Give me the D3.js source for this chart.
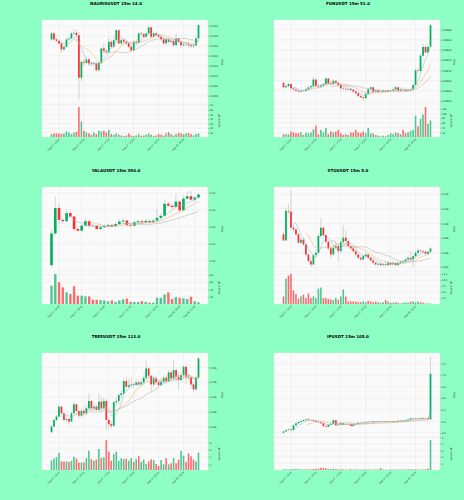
<!DOCTYPE html>
<html>
<head>
<meta charset="utf-8">
<script src="https://cdn.jsdelivr.net/npm/d3@7"></script>
<style>
  body { margin: 0; background: #8effc4; }
  svg { display: block; }
</style>
</head>
<body>
<svg width="464" height="500"></svg>
<script>
// ---- data: 15m candles ----
var naorisOpen = [0.04282,0.04312,0.04282,0.04275,0.04262,0.04232,0.04245,0.04282,0.04287,0.04312,
  0.04315,0.04303,0.04090,0.04170,0.04165,0.04182,0.04162,0.04158,0.04162,0.04128,
  0.04165,0.04237,0.04225,0.04220,0.04270,0.04245,0.04278,0.04328,0.04262,0.04278,
  0.04270,0.04262,0.04245,0.04228,0.04270,0.04265,0.04312,0.04308,0.04295,0.04312,
  0.04342,0.04295,0.04312,0.04303,0.04295,0.04282,0.04262,0.04282,0.04270,0.04275,
  0.04253,0.04287,0.04270,0.04253,0.04257,0.04258,0.04253,0.04248,0.04252,0.04287];
var naorisHigh = [0.04320,0.04318,0.04290,0.04280,0.04268,0.04252,0.04290,0.04295,0.04322,0.04335,
  0.04330,0.04320,0.04178,0.04185,0.04195,0.04190,0.04172,0.04170,0.04168,0.04172,
  0.04245,0.04262,0.04232,0.04290,0.04282,0.04300,0.04335,0.04332,0.04300,0.04290,
  0.04278,0.04270,0.04250,0.04278,0.04280,0.04318,0.04320,0.04315,0.04320,0.04350,
  0.04345,0.04322,0.04318,0.04310,0.04300,0.04288,0.04290,0.04288,0.04282,0.04280,
  0.04310,0.04292,0.04275,0.04265,0.04268,0.04265,0.04260,0.04258,0.04300,0.04360];
var naorisLow = [0.04275,0.04278,0.04268,0.04255,0.04215,0.04225,0.04240,0.04276,0.04283,0.04305,
  0.04298,0.03978,0.04070,0.04150,0.04158,0.04150,0.04148,0.04150,0.04120,0.04122,
  0.04160,0.04218,0.04210,0.04215,0.04238,0.04240,0.04272,0.04255,0.04255,0.04262,
  0.04255,0.04238,0.04220,0.04222,0.04258,0.04260,0.04300,0.04288,0.04290,0.04305,
  0.04288,0.04290,0.04298,0.04290,0.04275,0.04252,0.04258,0.04262,0.04265,0.04245,
  0.04250,0.04262,0.04240,0.04245,0.04250,0.04240,0.04238,0.04240,0.04245,0.04280];
var naorisClose = [0.04312,0.04282,0.04275,0.04262,0.04232,0.04245,0.04282,0.04287,0.04312,0.04315,
  0.04303,0.04090,0.04170,0.04165,0.04182,0.04162,0.04158,0.04162,0.04128,0.04165,
  0.04237,0.04225,0.04220,0.04270,0.04245,0.04278,0.04328,0.04262,0.04278,0.04270,
  0.04262,0.04245,0.04228,0.04270,0.04265,0.04312,0.04308,0.04295,0.04312,0.04342,
  0.04295,0.04312,0.04303,0.04295,0.04282,0.04262,0.04282,0.04270,0.04275,0.04253,
  0.04287,0.04270,0.04253,0.04257,0.04258,0.04253,0.04248,0.04252,0.04287,0.04353];
var naorisVol = [7.2,8.6,8.6,8.6,7.2,8.6,13,10.8,7.2,10.8, 12.2,66,34.5,14.4,10.8,8.6,5.8,10.8,7.2,14.4,
  13,14.4,10.8,15.8,7.2,5.8,8.6,5.8,4.3,2.9, 4.3,8.6,4.3,2.9,4.3,7.2,3.6,4.3,5.8,8.6,
  5.8,3.6,4.3,7.2,5.8,4.3,8.6,11.5,7.2,4.3, 7.2,10,8.6,7.2,8.6,9.4,7.2,4.3,7.2,8.6];

var funOpen = [0.009339,0.009317,0.009323,0.009333,0.009312,0.009307,0.009301,0.009296,0.009301,0.009299,
  0.009307,0.009317,0.009323,0.009355,0.009323,0.009320,0.009326,0.009333,0.009360,0.009336,
  0.009333,0.009349,0.009339,0.009328,0.009312,0.009310,0.009307,0.009309,0.009304,0.009296,
  0.009288,0.009275,0.009269,0.009264,0.009285,0.009307,0.009317,0.009296,0.009301,0.009294,
  0.009296,0.009301,0.009296,0.009301,0.009302,0.009307,0.009317,0.009301,0.009307,0.009306,
  0.009301,0.009304,0.009307,0.009328,0.009400,0.009397,0.009472,0.009515,0.009488,0.009515];
var funHigh = [0.009345,0.009330,0.009338,0.009336,0.009318,0.009312,0.009306,0.009305,0.009305,0.009312,
  0.009322,0.009330,0.009368,0.009360,0.009330,0.009332,0.009340,0.009368,0.009364,0.009345,
  0.009355,0.009352,0.009342,0.009332,0.009318,0.009316,0.009318,0.009314,0.009308,0.009300,
  0.009292,0.009280,0.009272,0.009290,0.009312,0.009322,0.009320,0.009306,0.009305,0.009300,
  0.009306,0.009304,0.009305,0.009308,0.009312,0.009324,0.009320,0.009318,0.009312,0.009310,
  0.009310,0.009312,0.009335,0.009410,0.009412,0.009480,0.009530,0.009525,0.009530,0.009628];
var funLow = [0.009310,0.009312,0.009318,0.009306,0.009300,0.009295,0.009290,0.009292,0.009294,0.009295,
  0.009303,0.009312,0.009318,0.009318,0.009312,0.009315,0.009320,0.009328,0.009330,0.009326,
  0.009328,0.009333,0.009320,0.009305,0.009302,0.009300,0.009300,0.009297,0.009288,0.009280,
  0.009268,0.009260,0.009254,0.009258,0.009280,0.009302,0.009290,0.009292,0.009290,0.009290,
  0.009292,0.009290,0.009292,0.009296,0.009298,0.009303,0.009296,0.009297,0.009300,0.009294,
  0.009296,0.009294,0.009302,0.009322,0.009385,0.009390,0.009465,0.009480,0.009482,0.009510];
var funClose = [0.009317,0.009323,0.009333,0.009312,0.009307,0.009301,0.009296,0.009301,0.009299,0.009307,
  0.009317,0.009323,0.009355,0.009323,0.009320,0.009326,0.009333,0.009360,0.009336,0.009333,
  0.009349,0.009339,0.009328,0.009312,0.009310,0.009307,0.009309,0.009304,0.009296,0.009288,
  0.009275,0.009269,0.009264,0.009285,0.009307,0.009317,0.009296,0.009301,0.009294,0.009296,
  0.009301,0.009296,0.009301,0.009302,0.009307,0.009317,0.009301,0.009307,0.009306,0.009301,
  0.009304,0.009307,0.009328,0.009400,0.009397,0.009472,0.009515,0.009488,0.009515,0.009621];
var funVol = [13,13,13,24,20,17,17,21,10,20, 17,20,34,49,13,31,20,39,13,24,
  21,24,31,17,10,13,10,20,20,31, 20,17,24,17,39,17,16,10,7,4,
  7,4,10,17,13,20,17,13,31,17, 21,27,31,91,46,77,96,127,57,71];

var yalaOpen = [0.186,0.280,0.355,0.320,0.316,0.340,0.330,0.293,0.288,0.303,
  0.316,0.303,0.302,0.293,0.298,0.302,0.305,0.301,0.308,0.315,
  0.318,0.305,0.303,0.313,0.316,0.313,0.317,0.313,0.318,0.326,
  0.332,0.368,0.362,0.358,0.374,0.348,0.383,0.390,0.380,0.386];
var yalaHigh = [0.293,0.388,0.368,0.326,0.350,0.348,0.333,0.298,0.308,0.326,
  0.318,0.308,0.303,0.303,0.308,0.310,0.308,0.313,0.322,0.326,
  0.320,0.310,0.318,0.320,0.320,0.322,0.320,0.323,0.350,0.340,
  0.378,0.373,0.368,0.398,0.378,0.393,0.403,0.406,0.390,0.398];
var yalaLow = [0.180,0.273,0.308,0.308,0.313,0.326,0.286,0.283,0.286,0.300,
  0.298,0.298,0.288,0.290,0.296,0.300,0.298,0.298,0.305,0.312,
  0.300,0.298,0.300,0.310,0.308,0.310,0.308,0.310,0.314,0.320,
  0.328,0.358,0.350,0.353,0.343,0.346,0.380,0.378,0.378,0.384];
var yalaClose = [0.280,0.355,0.320,0.316,0.340,0.330,0.293,0.288,0.303,0.316,
  0.303,0.302,0.293,0.298,0.302,0.305,0.301,0.308,0.315,0.318,
  0.305,0.303,0.313,0.316,0.313,0.317,0.313,0.318,0.326,0.332,
  0.368,0.362,0.358,0.374,0.348,0.383,0.390,0.380,0.386,0.395];
var yalaVol = [51,82,60,46,33,28,49,24,24,22, 22,13,13,12,11,9,11,7,11,14,
  16,7,7,7,9,7,5,5,18,18, 27,33,15,20,18,17,15,21,9,6];

var stoOpen = [0.09850,0.09767,0.10171,0.10161,0.09941,0.09918,0.09850,0.09735,0.09776,0.09712,
  0.09574,0.09483,0.09437,0.09565,0.09597,0.09827,0.09941,0.09840,0.09749,0.09657,
  0.09574,0.09666,0.09689,0.09620,0.09744,0.09804,0.09758,0.09689,0.09657,0.09620,
  0.09574,0.09528,0.09506,0.09551,0.09574,0.09528,0.09492,0.09460,0.09437,0.09446,
  0.09428,0.09437,0.09428,0.09460,0.09437,0.09460,0.09428,0.09460,0.09473,0.09483,
  0.09506,0.09528,0.09506,0.09551,0.09597,0.09629,0.09620,0.09611,0.09583,0.09611];
var stoHigh = [0.09872,0.10217,0.10262,0.10446,0.09987,0.09941,0.09872,0.09804,0.09795,0.09721,
  0.09583,0.09528,0.09583,0.09629,0.09859,0.10079,0.09964,0.09850,0.09767,0.09689,
  0.09712,0.09758,0.09712,0.09781,0.09973,0.09918,0.09781,0.09712,0.09689,0.09643,
  0.09597,0.09565,0.09574,0.09597,0.09583,0.09551,0.09519,0.09483,0.09473,0.09473,
  0.09460,0.09483,0.09483,0.09473,0.09492,0.09473,0.09483,0.09492,0.09506,0.09528,
  0.09565,0.09620,0.09574,0.09629,0.09657,0.09643,0.09639,0.09629,0.09629,0.09675];
var stoLow = [0.09758,0.09758,0.10125,0.09918,0.09886,0.09827,0.09712,0.09721,0.09689,0.09551,
  0.09460,0.09400,0.09428,0.09538,0.09574,0.09804,0.09813,0.09721,0.09629,0.09519,
  0.09551,0.09643,0.09473,0.09597,0.09712,0.09735,0.09666,0.09629,0.09597,0.09551,
  0.09506,0.09483,0.09492,0.09528,0.09506,0.09473,0.09437,0.09423,0.09419,0.09414,
  0.09414,0.09409,0.09414,0.09419,0.09428,0.09414,0.09414,0.09446,0.09455,0.09469,
  0.09492,0.09492,0.09400,0.09528,0.09574,0.09597,0.09583,0.09565,0.09565,0.09597];
var stoClose = [0.09767,0.10171,0.10161,0.09941,0.09918,0.09850,0.09735,0.09776,0.09712,0.09574,
  0.09483,0.09437,0.09565,0.09597,0.09827,0.09941,0.09840,0.09749,0.09657,0.09574,
  0.09666,0.09689,0.09620,0.09744,0.09804,0.09758,0.09689,0.09657,0.09620,0.09574,
  0.09528,0.09506,0.09551,0.09574,0.09528,0.09492,0.09460,0.09437,0.09446,0.09428,
  0.09437,0.09428,0.09460,0.09437,0.09460,0.09428,0.09460,0.09473,0.09483,0.09506,
  0.09528,0.09506,0.09551,0.09597,0.09629,0.09620,0.09611,0.09583,0.09611,0.09657];
var stoVol = [3.2,10.6,11.9,12.5,5.7,4.2,2.2,3.2,3.9,2.5, 4.4,2.5,3.2,2.5,6.4,6.9,2.5,2.5,2.2,1.9,
  1.7,2.5,1.8,3.2,6.1,3.2,1.1,1.1,1.1,1.1, 0.8,0.8,1.1,0.8,1.4,1.1,0.8,1.1,0.8,0.6,
  0.8,1.7,1.1,0.6,0.6,0.8,0.6,0.3,0.6,0.8, 0.6,1.1,1.1,0.8,1.1,0.8,0.6,0.3,0.3,0.2];

var treeOpen = [0.38308,0.38500,0.38724,0.38837,0.39174,0.38949,0.38724,0.38758,0.38668,0.38949,
  0.39252,0.39028,0.38870,0.39028,0.38949,0.39117,0.39365,0.39117,0.39174,0.39061,
  0.39342,0.39117,0.39365,0.38724,0.38578,0.38522,0.39320,0.39365,0.39567,0.39623,
  0.40039,0.39848,0.39904,0.39927,0.39904,0.39994,0.39927,0.39994,0.40152,0.40466,
  0.40219,0.39927,0.40129,0.39994,0.39904,0.40017,0.40152,0.40039,0.40331,0.40129,
  0.40410,0.40185,0.40073,0.40241,0.40522,0.40185,0.40152,0.39927,0.39758,0.40152];
var treeHigh = [0.38555,0.38780,0.38893,0.39230,0.39200,0.38983,0.38893,0.38803,0.39005,0.39320,
  0.39286,0.39061,0.39117,0.39174,0.39230,0.39623,0.39398,0.39320,0.39230,0.39623,
  0.39511,0.39477,0.39432,0.38780,0.38690,0.39365,0.39477,0.39623,0.39736,0.40129,
  0.40185,0.40129,0.40185,0.40017,0.40129,0.40073,0.40107,0.40241,0.40747,0.40522,
  0.40241,0.40241,0.40219,0.40073,0.40129,0.40241,0.40219,0.40410,0.40376,0.40747,
  0.40466,0.40320,0.40354,0.40579,0.40556,0.40298,0.40219,0.39994,0.40219,0.40860];
var treeLow = [0.38275,0.38466,0.38668,0.38803,0.38893,0.38668,0.38646,0.38555,0.38646,0.38916,
  0.38949,0.38780,0.38803,0.38870,0.38893,0.39061,0.38983,0.38949,0.38983,0.39005,
  0.38983,0.39061,0.38387,0.38443,0.38421,0.38500,0.39174,0.39252,0.39455,0.39567,
  0.39792,0.39792,0.39815,0.39792,0.39848,0.39848,0.39882,0.39927,0.40073,0.40129,
  0.39680,0.39848,0.39904,0.39848,0.39882,0.39949,0.39994,0.39994,0.40073,0.40073,
  0.40039,0.39736,0.40017,0.40129,0.39949,0.40073,0.39792,0.39680,0.39702,0.40129];
var treeClose = [0.38500,0.38724,0.38837,0.39174,0.38949,0.38724,0.38758,0.38668,0.38949,0.39252,
  0.39028,0.38870,0.39028,0.38949,0.39117,0.39365,0.39117,0.39174,0.39061,0.39342,
  0.39117,0.39365,0.38724,0.38578,0.38522,0.39320,0.39365,0.39567,0.39623,0.40039,
  0.39848,0.39904,0.39927,0.39904,0.39994,0.39927,0.39994,0.40152,0.40466,0.40219,
  0.39927,0.40129,0.39994,0.39904,0.40017,0.40152,0.40039,0.40331,0.40129,0.40410,
  0.40185,0.40073,0.40241,0.40522,0.40185,0.40152,0.39927,0.39758,0.40152,0.40803];
var treeVol = [3.1,3.6,4.0,5.2,2.8,2.8,2.8,2.7,3.0,4.1, 3.6,2.5,2.5,2.5,3.7,5.7,3.4,3.0,3.3,6.2,
  3.7,3.9,8.6,5.5,3.0,4.8,5.5,3.0,3.7,3.4, 3.6,3.0,3.7,2.7,3.4,4.3,2.7,3.3,2.1,2.8,
  3.4,3.2,2.1,1.6,3.2,2.0,3.7,2.0,2.3,3.7, 2.3,3.3,5.7,4.4,2.7,5.0,4.2,3.3,2.8,5.2];

var ipOpen = [6.001,6.025,6.048,6.060,6.048,6.130,6.165,6.188,6.206,6.223,
  6.235,6.223,6.218,6.206,6.188,6.182,6.165,6.118,6.106,6.142,
  6.159,6.218,6.130,6.142,6.165,6.142,6.147,6.153,6.118,6.147,
  6.159,6.177,6.182,6.177,6.188,6.194,6.200,6.188,6.194,6.200,
  6.194,6.200,6.188,6.194,6.200,6.188,6.194,6.212,6.218,6.212,
  6.223,6.235,6.253,6.247,6.253,6.247,6.259,6.247,6.253,6.235];
var ipHigh = [6.035,6.058,6.072,6.065,6.140,6.178,6.200,6.215,6.232,6.245,
  6.258,6.232,6.225,6.212,6.195,6.188,6.172,6.125,6.150,6.168,
  6.240,6.225,6.152,6.172,6.170,6.155,6.160,6.160,6.152,6.165,
  6.185,6.190,6.188,6.195,6.200,6.206,6.205,6.200,6.206,6.205,
  6.206,6.205,6.200,6.206,6.205,6.200,6.218,6.228,6.222,6.230,
  6.242,6.262,6.260,6.260,6.258,6.265,6.262,6.260,6.258,7.317];
var ipLow = [5.995,6.018,6.040,6.040,6.042,6.122,6.158,6.180,6.198,6.215,
  6.215,6.210,6.198,6.180,6.175,6.158,6.110,6.098,6.100,6.135,
  6.150,6.125,6.125,6.135,6.135,6.138,6.140,6.110,6.112,6.140,
  6.152,6.170,6.170,6.172,6.182,6.188,6.182,6.182,6.188,6.188,
  6.188,6.182,6.182,6.188,6.182,6.182,6.188,6.205,6.205,6.205,
  6.218,6.228,6.240,6.240,6.240,6.240,6.240,6.240,6.228,6.223];
var ipClose = [6.025,6.048,6.060,6.048,6.130,6.165,6.188,6.206,6.223,6.235,
  6.223,6.218,6.206,6.188,6.182,6.165,6.118,6.106,6.142,6.159,
  6.218,6.130,6.142,6.165,6.142,6.147,6.153,6.118,6.147,6.159,
  6.177,6.182,6.177,6.188,6.194,6.200,6.188,6.194,6.200,6.194,
  6.200,6.188,6.194,6.200,6.188,6.194,6.212,6.218,6.212,6.223,
  6.235,6.253,6.247,6.253,6.247,6.259,6.247,6.253,6.235,7.025];
var ipVol = [0.12,0.15,0.10,0.12,0.20,0.18,0.15,0.12,0.10,0.15, 0.12,0.10,0.18,0.15,0.25,0.35,0.30,0.28,0.20,0.15,
  0.22,0.18,0.12,0.10,0.12,0.10,0.08,0.15,0.10,0.12, 0.10,0.08,0.10,0.08,0.10,0.08,0.10,0.12,0.10,0.30,
  0.10,0.08,0.06,0.08,0.10,0.06,0.12,0.10,0.08,0.10, 0.12,0.15,0.10,0.12,0.10,0.08,0.10,0.12,0.20,4.6];

// tick labels
var longTickIdx = [3, 13, 23, 33, 43, 53];
var longTickLabels = ["Aug 07, 12:00", "Aug 07, 14:30", "Aug 07, 17:00", "Aug 07, 19:30", "Aug 07, 22:00", "Aug 08, 00:30"];
var yalaTickIdx = [2, 8, 14, 21, 28, 34, 38];
var yalaTickLabels = ["Aug 07, 16:45", "Aug 07, 18:15", "Aug 07, 19:45", "Aug 07, 21:30", "Aug 07, 23:15", "Aug 08, 00:45", "Aug 08, 01:45"];

var naorisPriceTicks = [0.0400, 0.0405, 0.0410, 0.0415, 0.0420, 0.0425, 0.0430, 0.0435];
var funPriceTicks = [0.00925, 0.00930, 0.00935, 0.00940, 0.00945, 0.00950, 0.00955, 0.00960];
var yalaPriceTicks = [0.20, 0.25, 0.30, 0.35, 0.40];
var stoPriceTicks = [0.094, 0.096, 0.098, 0.100, 0.102, 0.104];
var treePriceTicks = [0.385, 0.390, 0.395, 0.400, 0.405];
var ipPriceTicks = [6.0, 6.2, 6.4, 6.6, 6.8, 7.0, 7.2];

var naorisVolTicks = [10, 20, 30, 40, 50, 60, 70];
var funVolTicks = [20, 40, 60, 80, 100, 120];
var yalaVolTicks = [20, 40, 60, 80];
var stoVolTicks = [2.5, 5.0, 7.5, 10.0, 12.5];
var treeVolTicks = [2, 4, 6, 8];
var ipVolTicks = [1, 2, 3, 4, 5];

var mavWindows = [5, 10, 20];
var mavColors = ["#8ab8d4", "#f2a65e", "#a9a9a9"];

var panels = [
  {title: "NAORISUSDT 15m 14.0", o: naorisOpen, h: naorisHigh, l: naorisLow, c: naorisClose, v: naorisVol,
   pt: naorisPriceTicks, pf: ".4f", vt: naorisVolTicks, vf: "d", vexp: "6", xi: longTickIdx, xl: longTickLabels, col: 0, row: 0},
  {title: "FUNUSDT 15m 51.0", o: funOpen, h: funHigh, l: funLow, c: funClose, v: funVol,
   pt: funPriceTicks, pf: ".5f", vt: funVolTicks, vf: "d", vexp: "6", xi: longTickIdx, xl: longTickLabels, col: 1, row: 0},
  {title: "YALAUSDT 15m 390.0", o: yalaOpen, h: yalaHigh, l: yalaLow, c: yalaClose, v: yalaVol,
   pt: yalaPriceTicks, pf: ".2f", vt: yalaVolTicks, vf: "d", vexp: "4", xi: yalaTickIdx, xl: yalaTickLabels, col: 0, row: 1},
  {title: "STOUSDT 15m 5.0", o: stoOpen, h: stoHigh, l: stoLow, c: stoClose, v: stoVol,
   pt: stoPriceTicks, pf: ".3f", vt: stoVolTicks, vf: ".1f", vexp: "6", xi: longTickIdx, xl: longTickLabels, col: 1, row: 1},
  {title: "TREEUSDT 15m 113.0", o: treeOpen, h: treeHigh, l: treeLow, c: treeClose, v: treeVol,
   pt: treePriceTicks, pf: ".3f", vt: treeVolTicks, vf: "d", vexp: "5", xi: longTickIdx, xl: longTickLabels, col: 0, row: 2},
  {title: "IPUSDT 15m 105.0", o: ipOpen, h: ipHigh, l: ipLow, c: ipClose, v: ipVol,
   pt: ipPriceTicks, pf: ".1f", vt: ipVolTicks, vf: "d", vexp: "5", xi: longTickIdx, xl: longTickLabels, col: 1, row: 2}
];

// ---- layout ----
var svg = d3.select("svg");
var colLeft = [42, 274], colCenter = [116, 348];
var rowTop = [20, 187, 353];
var plotW = 166, priceH = 84, volH = 33, xPad = 9.5;
var upColor = "#00b060", downColor = "#fe3032";
var vUp = "#4dc790", vDown = "#fd6b6c";
var font = "DejaVu Sans, sans-serif";

function sma(arr, w) {
  return arr.map(function(d, i) {
    if (i < w - 1) return null;
    return d3.mean(arr.slice(i - w + 1, i + 1));
  });
}

function styleAxis(sel) {
  sel.select(".domain").remove();
  sel.selectAll("line").attr("stroke", "#444").attr("stroke-width", 0.3);
  sel.selectAll("text").attr("font-size", 2.3).attr("font-family", font).attr("fill", "#222");
}

panels.forEach(function(p) {
  var left = colLeft[p.col], right = left + plotW;
  var top = rowTop[p.row], split = top + priceH, bottom = split + volH;
  var n = p.c.length;
  var g = svg.append("g");

  var x = d3.scaleLinear().domain([0, n - 1]).range([left + xPad, right - xPad]);
  var step = x(1) - x(0);
  var lo = d3.min(p.l), hi = d3.max(p.h), r = hi - lo;
  var y = d3.scaleLinear().domain([lo - 0.05 * r, hi + 0.05 * r]).range([split, top]);
  var yv = d3.scaleLinear().domain([0.3 * d3.min(p.v), 1.1 * d3.max(p.v)]).range([bottom, split]);

  // title
  g.append("text").attr("x", colCenter[p.col]).attr("y", top - 15.5)
    .attr("text-anchor", "middle").attr("font-family", font)
    .attr("font-weight", "bold").attr("font-size", 4).text(p.title);

  // face
  g.append("rect").attr("x", left).attr("y", top).attr("width", plotW).attr("height", bottom - top)
    .attr("fill", "#fafafa").attr("stroke", "#e4e4e4").attr("stroke-width", 0.4);
  g.append("line").attr("x1", left).attr("x2", right).attr("y1", split).attr("y2", split)
    .attr("stroke", "#e4e4e4").attr("stroke-width", 0.4);

  // grid
  g.selectAll(".vg").data(p.xi).enter().append("line")
    .attr("x1", function(d) { return x(d); }).attr("x2", function(d) { return x(d); })
    .attr("y1", top).attr("y2", bottom).attr("stroke", "#dcdcdc").attr("stroke-width", 0.3);
  g.selectAll(".pg").data(p.pt).enter().append("line")
    .attr("x1", left).attr("x2", right)
    .attr("y1", function(d) { return y(d); }).attr("y2", function(d) { return y(d); })
    .attr("stroke", "#dcdcdc").attr("stroke-width", 0.3);
  g.selectAll(".vgg").data(p.vt).enter().append("line")
    .attr("x1", left).attr("x2", right)
    .attr("y1", function(d) { return yv(d); }).attr("y2", function(d) { return yv(d); })
    .attr("stroke", "#dcdcdc").attr("stroke-width", 0.3);

  var idx = d3.range(n);

  // volume bars
  g.selectAll(".vol").data(idx).enter().append("rect")
    .attr("x", function(i) { return x(i) - step * 0.32; })
    .attr("width", step * 0.64)
    .attr("y", function(i) { return yv(p.v[i]); })
    .attr("height", function(i) { return bottom - yv(p.v[i]); })
    .attr("fill", function(i) { return p.c[i] >= p.o[i] ? vUp : vDown; });

  // wicks
  g.selectAll(".wick").data(idx).enter().append("line")
    .attr("x1", function(i) { return x(i); }).attr("x2", function(i) { return x(i); })
    .attr("y1", function(i) { return y(p.h[i]); }).attr("y2", function(i) { return y(p.l[i]); })
    .attr("stroke", "#909090").attr("stroke-width", 0.35);

  // bodies
  g.selectAll(".body").data(idx).enter().append("rect")
    .attr("x", function(i) { return x(i) - step * 0.35; })
    .attr("width", step * 0.7)
    .attr("y", function(i) { return y(Math.max(p.o[i], p.c[i])); })
    .attr("height", function(i) { return Math.max(0.3, Math.abs(y(p.o[i]) - y(p.c[i]))); })
    .attr("fill", function(i) { return p.c[i] >= p.o[i] ? upColor : downColor; });

  // moving averages
  mavWindows.forEach(function(w, k) {
    var m = sma(p.c, w);
    var line = d3.line().defined(function(d) { return d != null; })
      .x(function(d, i) { return x(i); }).y(function(d) { return y(d); });
    g.append("path").datum(m).attr("d", line).attr("fill", "none")
      .attr("stroke", mavColors[k]).attr("stroke-width", 0.5);
  });

  // axes on the right
  g.append("g").attr("transform", "translate(" + right + ",0)")
    .call(d3.axisRight(y).tickValues(p.pt).tickFormat(d3.format(p.pf)).tickSize(1).tickPadding(1))
    .call(styleAxis);
  g.append("g").attr("transform", "translate(" + right + ",0)")
    .call(d3.axisRight(yv).tickValues(p.vt).tickFormat(d3.format(p.vf)).tickSize(1).tickPadding(1))
    .call(styleAxis);

  g.append("text").attr("transform", "translate(" + (right + 14.5) + "," + ((top + split) / 2) + ") rotate(-90)")
    .attr("text-anchor", "middle").attr("font-family", font).attr("font-size", 2.4).attr("fill", "#222")
    .text("Price");
  var vl = g.append("text").attr("transform", "translate(" + (right + 11.5) + "," + ((split + bottom) / 2) + ") rotate(-90)")
    .attr("text-anchor", "middle").attr("font-family", font).attr("font-size", 2.4).attr("fill", "#222");
  vl.append("tspan").text("Volume  10");
  vl.append("tspan").attr("dy", -0.9).attr("font-size", 1.7).text(p.vexp);

  // x tick marks and rotated labels
  g.selectAll(".xt").data(p.xi).enter().append("line")
    .attr("x1", function(d) { return x(d); }).attr("x2", function(d) { return x(d); })
    .attr("y1", bottom).attr("y2", bottom + 1).attr("stroke", "#444").attr("stroke-width", 0.3);
  g.selectAll(".xl").data(p.xi).enter().append("text")
    .attr("transform", function(d) { return "translate(" + (x(d) + 0.8) + "," + (bottom + 2.6) + ") rotate(-45)"; })
    .attr("text-anchor", "end").attr("font-family", font).attr("font-size", 2.3).attr("fill", "#222")
    .text(function(d, i) { return p.xl[i]; });
});
</script>
</body>
</html>
